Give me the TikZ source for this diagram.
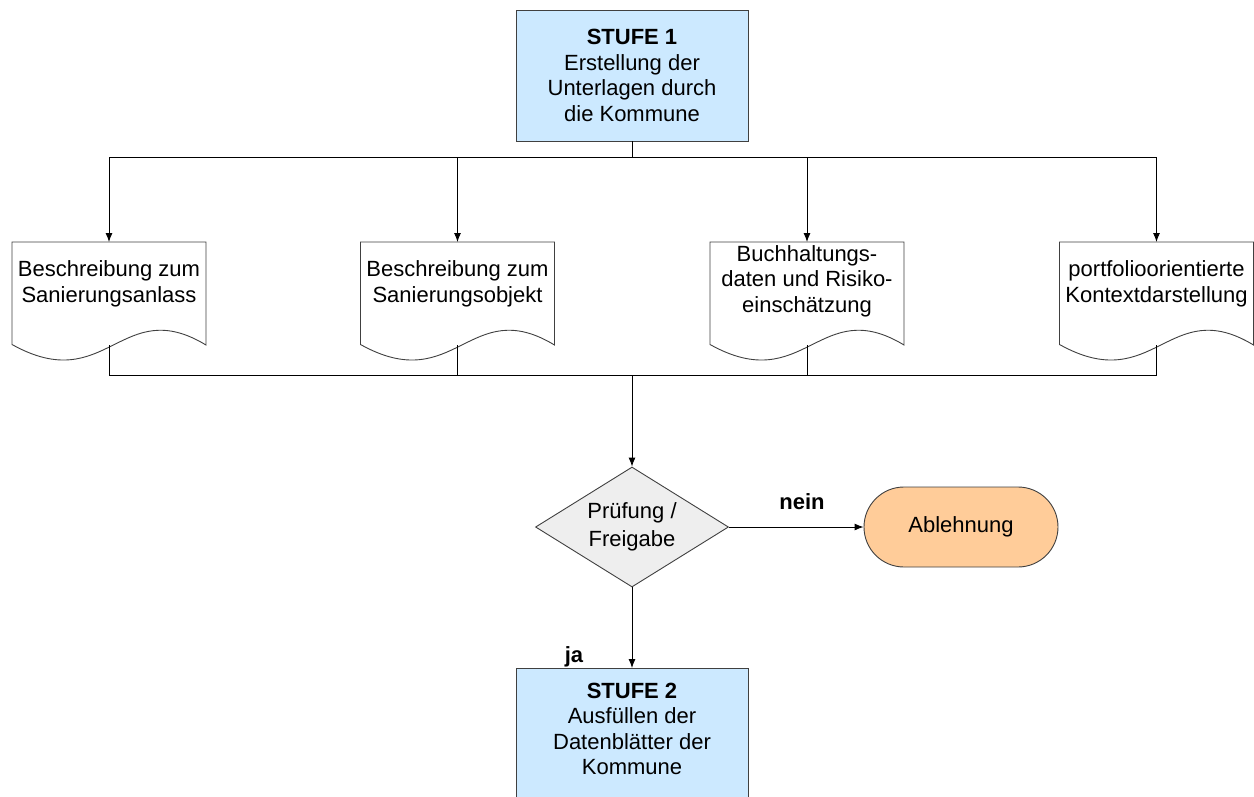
\documentclass[tikz,border=0pt]{standalone}
\usepackage{fontspec}
\setmainfont{Liberation Sans}
\usetikzlibrary{shapes.geometric,shapes.misc,arrows.meta,calc}
\definecolor{stufeblue}{HTML}{CCE9FF}
\definecolor{rejorange}{HTML}{FFCC99}
\definecolor{diagray}{HTML}{EEEEEE}
\definecolor{edgegray}{HTML}{404040}
\tikzset{
  txt/.style={font=\fontsize{22}{25.5}\selectfont, align=center, inner sep=0pt},
  stufebox/.style={draw=edgegray, line width=0.9pt, fill=stufeblue, minimum width=232pt, inner sep=0pt},
  docshape/.style={draw=edgegray, line width=0.9pt, fill=white},
  decision/.style={diamond, draw=edgegray, line width=0.9pt, fill=diagray, aspect=1.6, minimum width=193pt, minimum height=120pt, inner sep=0pt, txt},
  terminal/.style={rounded rectangle, draw=edgegray, line width=0.9pt, fill=rejorange, minimum width=194pt, minimum height=80pt, inner sep=0pt, txt},
  conn/.style={line width=0.9pt, black},
  arr/.style={conn, -{Latex[length=9pt,width=7pt]}},
  lbl/.style={font=\fontsize{22}{25.5}\selectfont\bfseries, inner sep=0pt}
}
% document outline around a centre coordinate: top -51.5, bottom corners +51.5
\newcommand\docpath[1]{%
  \draw[docshape] ($(#1)+(-97,-51.5)$) -- ($(#1)+(97,-51.5)$) -- ($(#1)+(97,51.5)$)
    .. controls ($(#1)+(12,0)$) and ($(#1)+(-2,104)$) .. ($(#1)+(-97,51)$) -- cycle;
  \coordinate (#1t) at ($(#1)+(0,-51.5)$);
  \coordinate (#1b) at ($(#1)+(0,51.5)$);}
\begin{document}
\begin{tikzpicture}[x=1pt,y=-1pt]
\clip (0,0) rectangle (1254,796);
\useasboundingbox (0,0) rectangle (1254,796);

% Stufe 1
\node[stufebox, minimum height=131pt, txt] (s1) at (632,75.5)
  {\textbf{STUFE 1}\\Erstellung der\\Unterlagen durch\\die Kommune};

% document outlines
\coordinate (dc1) at (109,293.5);
\coordinate (dc2) at (457.5,293.5);
\coordinate (dc3) at (807,293.5);
\coordinate (dc4) at (1156.5,293.5);
\docpath{dc1}\docpath{dc2}\docpath{dc3}\docpath{dc4}

% document texts
\node[txt] (d1) at (109,284) {Beschreibung zum\\Sanierungsanlass};
\node[txt] (d2) at (457.5,284) {Beschreibung zum\\Sanierungsobjekt};
\node[txt] (d3) at (807,281) {Buchhaltungs-\\daten und Risiko-\\einschätzung};
\node[txt] (d4) at (1156.5,284) {portfolioorientierte\\Kontextdarstellung};

% decision, terminal, Stufe 2
\node[decision] (chk) at (632,527) {Prüfung /\\[2pt]Freigabe};
\node[terminal] (rej) at (961,527) {Ablehnung};
\node[stufebox, minimum height=160pt, anchor=north] (s2) at (632,668) {};
\node[txt] (s2t) at (632,729) {\textbf{STUFE 2}\\Ausfüllen der\\Datenblätter der\\Kommune};

% connectors from Stufe 1
\coordinate (split) at (632,157);
\draw[conn] (s1.south) -- (split);
\draw[arr] (split) -| (dc1t);
\draw[arr] (split) -| (dc2t);
\draw[arr] (split) -| (dc3t);
\draw[arr] (split) -| (dc4t);

% merge
\coordinate (merge) at (632,375);
\draw[conn] (dc1b) |- (merge);
\draw[conn] (dc2b) |- (merge);
\draw[conn] (dc3b) |- (merge);
\draw[conn] (dc4b) |- (merge);
\draw[arr] (merge) -- (chk.north);

% decision outputs
\draw[arr] (chk.east) -- (rej.west);
\draw[arr] (chk.south) -- (s2.north);
\node[lbl] (nein) at (802,502) {nein};
\node[lbl] (ja) at (574,657) {ja};
\end{tikzpicture}
\end{document}
